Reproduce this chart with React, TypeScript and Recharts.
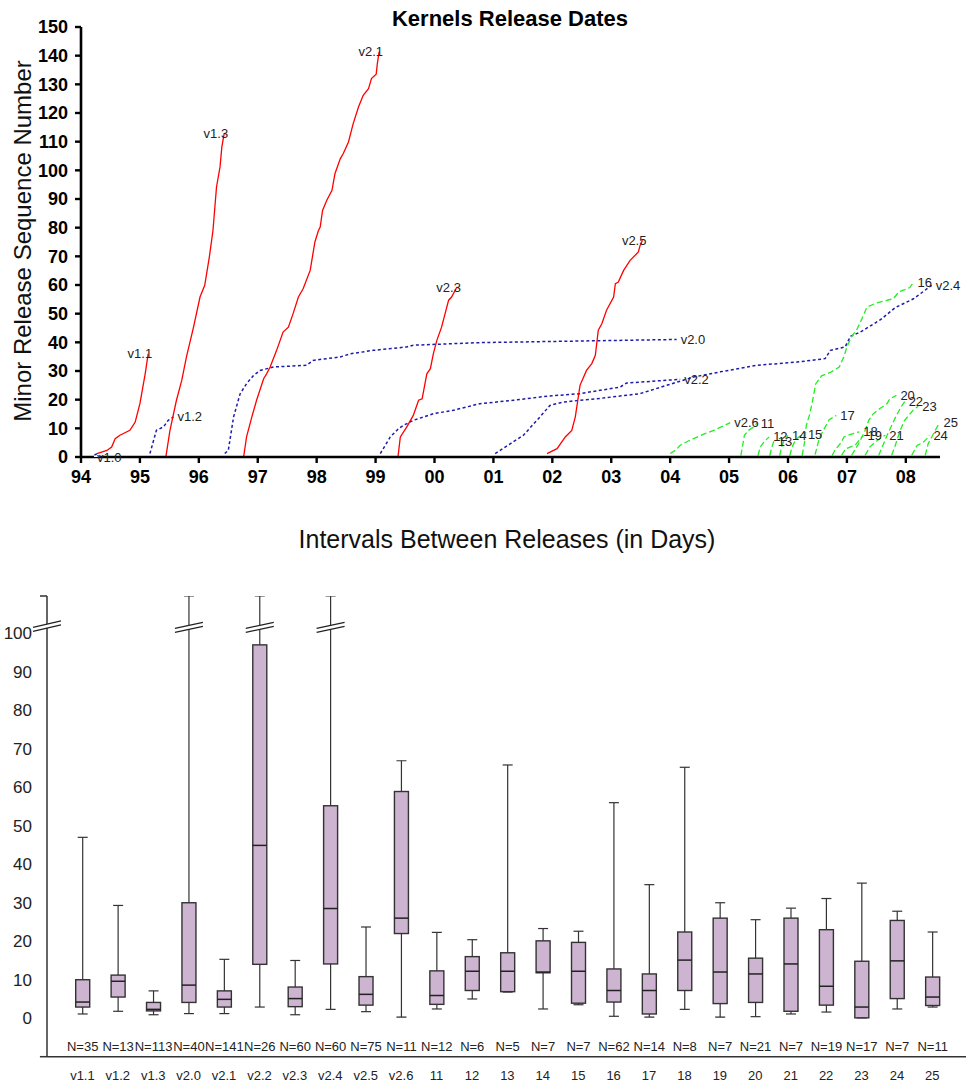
import React from 'react';
import { LineChart, Line, XAxis, YAxis, ComposedChart, Bar, ReferenceDot, ReferenceLine } from 'recharts';

const FONT = '"Liberation Sans", Arial, Helvetica, sans-serif';

// ---------- Top chart data: [year (since 1900), minor release number] ----------
const v10: number[][] = [[94.27, 0]];
const v11: number[][] = [[94.27, 1.2], [94.44, 2.3], [94.52, 3.5], [94.58, 6.4], [94.66, 7.6], [94.83, 9.3], [94.92, 12.2], [95.0, 18.6], [95.09, 29.1], [95.14, 36]];
const v12: number[][] = [[95.17, 1.2], [95.28, 9.3], [95.4, 10.5], [95.48, 12.8], [95.57, 14]];
const v13: number[][] = [[95.44, 0], [95.51, 9.3], [95.62, 19.8], [95.71, 26.7], [95.79, 34.9], [95.91, 45.3], [96.02, 55.8], [96.1, 59.9], [96.18, 70], [96.24, 79], [96.3, 94.2], [96.36, 101.2], [96.39, 108.1], [96.43, 112.8]];
const v20: number[][] = [[96.44, 1.2], [96.5, 2.3], [96.59, 14], [96.7, 22], [96.81, 25.6], [96.93, 28.5], [97.04, 30.2], [97.27, 31.4], [97.83, 32], [97.94, 33.7], [98.4, 34.9], [98.57, 36], [98.96, 37.2], [99.53, 38.4], [99.64, 39], [100.77, 39.9], [104.11, 41]];
const v21: number[][] = [[96.76, 0], [96.81, 7], [96.9, 14], [96.98, 19.8], [97.1, 27.3], [97.15, 29], [97.21, 31.4], [97.32, 37.2], [97.43, 43.6], [97.52, 45.3], [97.6, 50], [97.69, 55.8], [97.77, 58.7], [97.89, 65.1], [97.97, 75], [98.03, 79], [98.06, 80.2], [98.1, 86], [98.17, 89.5], [98.26, 93], [98.31, 98.8], [98.4, 104], [98.45, 105.8], [98.54, 109.9], [98.62, 116.3], [98.71, 122.1], [98.79, 126.2], [98.88, 128.5], [98.93, 132], [99.01, 133.5], [99.03, 137.2], [99.06, 141.3]];
const v22: number[][] = [[99.08, 1.2], [99.25, 7], [99.39, 9.9], [99.47, 11], [99.64, 12.8], [99.98, 15.1], [100.32, 16.3], [100.77, 18.6], [101.34, 19.8], [101.91, 21.2], [102.47, 22.1], [103.15, 24.4], [103.26, 25.8], [104.17, 27.1]];
const v23: number[][] = [[99.38, 0], [99.42, 7], [99.53, 10.5], [99.64, 14.5], [99.73, 19.8], [99.79, 20.3], [99.87, 29], [99.93, 30.8], [99.98, 36], [100.04, 40.7], [100.12, 45.3], [100.24, 54.7], [100.29, 55.8], [100.38, 59.3]];
const v24: number[][] = [[101.03, 1.2], [101.51, 7.6], [101.79, 14], [101.96, 18], [102.19, 19.2], [102.75, 20.3], [103.49, 22.1], [103.94, 25], [104.4, 27.9], [104.85, 29.7], [105.47, 32], [106.15, 33.1], [106.63, 34.3], [106.72, 37.2], [106.97, 38.4], [107.06, 42.1], [107.23, 43.6], [107.57, 47.9], [107.82, 52.1], [108.13, 55.2], [108.44, 59.9]];
const v25: number[][] = [[101.91, 1.2], [102.08, 2.9], [102.22, 7], [102.33, 9.3], [102.39, 14], [102.47, 25], [102.58, 30.2], [102.67, 32.6], [102.73, 35.5], [102.78, 44.2], [102.84, 46.5], [102.92, 51.2], [103.04, 55.8], [103.07, 60.5], [103.12, 61], [103.21, 65.1], [103.32, 68.6], [103.46, 71.5], [103.49, 73.8], [103.53, 75.6]];
const v26: number[][] = [[104.0, 1.2], [104.1, 2.5], [104.17, 4.1], [104.3, 5.5], [104.4, 6.4], [104.55, 7.8], [104.74, 9.3], [104.9, 10.8], [105.02, 12]];
const k11: number[][] = [[105.2, 0.5], [105.23, 4], [105.26, 7.6], [105.33, 9.3], [105.42, 10.5], [105.47, 11.8]];
const k12: number[][] = [[105.49, 0.5], [105.53, 3.5], [105.6, 5.5], [105.68, 7]];
const k13: number[][] = [[105.69, 0.5], [105.72, 3], [105.76, 5.5]];
const k14: number[][] = [[105.86, 0.5], [105.89, 3.5], [105.94, 6], [106.0, 7.5]];
const k15: number[][] = [[106.03, 0.5], [106.07, 3.5], [106.13, 6], [106.2, 7.2], [106.27, 7.8]];
const k16: number[][] = [[106.24, 0.5], [106.28, 5], [106.31, 11], [106.37, 15], [106.43, 21], [106.47, 25.5], [106.57, 28.3], [106.72, 29.5], [106.87, 31.4], [106.95, 35], [107.0, 38.4], [107.08, 42], [107.17, 44.5], [107.25, 48], [107.34, 52.3], [107.51, 53.8], [107.79, 55.2], [107.88, 57.6], [108.07, 59.1], [108.13, 61]];
const k17: number[][] = [[106.46, 0.8], [106.5, 4], [106.53, 6.5], [106.6, 9.3], [106.66, 11.5], [106.7, 13], [106.82, 14.5]];
const k18: number[][] = [[106.75, 0.5], [106.8, 2.5], [106.9, 5], [106.95, 7], [107.05, 7.8], [107.21, 8.8]];
const k19: number[][] = [[106.91, 0.6], [106.98, 2.9], [107.14, 4.1], [107.23, 6.4], [107.28, 7.4]];
const k20: number[][] = [[107.08, 0.6], [107.2, 4.7], [107.31, 9.3], [107.37, 12.8], [107.45, 15.1], [107.56, 16.9], [107.68, 18.6], [107.73, 20.3], [107.84, 21.5]];
const k21: number[][] = [[107.31, 0.6], [107.39, 3.5], [107.5, 5.5], [107.6, 7], [107.65, 7.6]];
const k22: number[][] = [[107.54, 0.6], [107.6, 3.5], [107.68, 7.5], [107.76, 11], [107.84, 14.5], [107.92, 17.5], [107.98, 19.3]];
const k23: number[][] = [[107.76, 0.6], [107.82, 4], [107.9, 9], [107.97, 12.5], [108.05, 14.5], [108.13, 16.5], [108.21, 17.7]];
const k24: number[][] = [[108.1, 0.6], [108.19, 4], [108.3, 5.2], [108.36, 6.5], [108.4, 7.6]];
const k25: number[][] = [[108.33, 0.6], [108.38, 4.7], [108.44, 7], [108.5, 9.3], [108.57, 11.9]];

const yearTicks = [94, 95, 96, 97, 98, 99, 100, 101, 102, 103, 104, 105, 106, 107, 108];
const seqTicks = [0, 10, 20, 30, 40, 50, 60, 70, 80, 90, 100, 110, 120, 130, 140, 150];

// series styling (kept apart from the values)
type Kind = 'odd' | 'even' | 'new';
const seriesList: { name: string; pts: number[][]; kind: Kind }[] = [
  { name: 'v1.0', pts: v10, kind: 'even' },
  { name: 'v1.1', pts: v11, kind: 'odd' },
  { name: 'v1.2', pts: v12, kind: 'even' },
  { name: 'v1.3', pts: v13, kind: 'odd' },
  { name: 'v2.0', pts: v20, kind: 'even' },
  { name: 'v2.1', pts: v21, kind: 'odd' },
  { name: 'v2.2', pts: v22, kind: 'even' },
  { name: 'v2.3', pts: v23, kind: 'odd' },
  { name: 'v2.4', pts: v24, kind: 'even' },
  { name: 'v2.5', pts: v25, kind: 'odd' },
  { name: 'v2.6', pts: v26, kind: 'new' },
  { name: '11', pts: k11, kind: 'new' },
  { name: '12', pts: k12, kind: 'new' },
  { name: '13', pts: k13, kind: 'new' },
  { name: '14', pts: k14, kind: 'new' },
  { name: '15', pts: k15, kind: 'new' },
  { name: '16', pts: k16, kind: 'new' },
  { name: '17', pts: k17, kind: 'new' },
  { name: '18', pts: k18, kind: 'new' },
  { name: '19', pts: k19, kind: 'new' },
  { name: '20', pts: k20, kind: 'new' },
  { name: '21', pts: k21, kind: 'new' },
  { name: '22', pts: k22, kind: 'new' },
  { name: '23', pts: k23, kind: 'new' },
  { name: '24', pts: k24, kind: 'new' },
  { name: '25', pts: k25, kind: 'new' },
];

const STYLE: Record<Kind, { stroke: string; width: number; dash?: string }> = {
  odd: { stroke: '#ff0000', width: 1.3 },
  even: { stroke: '#1c1ca8', width: 1.5, dash: '3 2.5' },
  new: { stroke: '#22ee22', width: 1.3, dash: '6 3' },
};

// ---------- Bottom chart data: release intervals in days ----------
const categories = ['v1.1', 'v1.2', 'v1.3', 'v2.0', 'v2.1', 'v2.2', 'v2.3', 'v2.4', 'v2.5', 'v2.6', '11', '12', '13', '14', '15', '16', '17', '18', '19', '20', '21', '22', '23', '24', '25'];
const counts = [35, 13, 113, 40, 141, 26, 60, 60, 75, 11, 12, 6, 5, 7, 7, 62, 14, 8, 7, 21, 7, 19, 17, 7, 11];
const mins = [1.1, 1.8, 0.9, 1.2, 1.2, 2.9, 0.9, 2.3, 1.7, 0.3, 2.4, 5.0, 6.8, 2.4, 3.5, 0.5, 0.3, 2.3, 0.3, 0.4, 1.1, 1.6, 0.1, 2.4, 2.9];
const q1s = [2.9, 5.5, 1.9, 4.1, 2.9, 14, 3.0, 14.1, 3.4, 22, 3.6, 7.2, 6.9, 11.8, 3.9, 4.2, 1.1, 7.2, 3.8, 4.1, 1.8, 3.4, 0.1, 5.1, 3.3];
const medians = [4.2, 9.6, 2.3, 8.6, 4.9, 44.9, 5.1, 28.5, 6.2, 26, 5.9, 12.2, 12.2, 12.0, 12.2, 7.2, 7.2, 15.1, 12, 11.5, 14.1, 8.3, 2.9, 14.9, 5.5];
const q3s = [10, 11.2, 4.1, 30, 7.1, 97, 8.1, 55.2, 10.8, 58.9, 12.3, 16, 17, 20.1, 19.7, 12.8, 11.5, 22.4, 26, 15.6, 26, 23, 14.8, 25.4, 10.7];
const maxs = [47, 29.3, 7.1, 356.04, 15.3, 221.91, 15, 168.72, 23.7, 66.9, 22.3, 20.4, 65.8, 23.3, 22.6, 56, 34.7, 65.2, 30, 25.6, 28.6, 31.1, 35.1, 27.8, 22.4];
const intervalTicks = [0, 10, 20, 30, 40, 50, 60, 70, 80, 90, 100];

const AXIS_TOP = 109.7; // values above the break are drawn at the top of the axis
const BREAK_AT = 102.2;
const AXIS_BOTTOM = -10;
const N_LABEL_AT = -7.45;

const boxData = categories.map((c, i) => ({
  name: c,
  pos: i + 1,
  n: counts[i],
  min: mins[i],
  q1: q1s[i],
  med: medians[i],
  q3: q3s[i],
  max: maxs[i],
  top: Math.min(maxs[i], AXIS_TOP),
}));

const BoxShape = (props: any) => {
  const { x, width, payload } = props;
  let y = props.y;
  let h = props.height;
  if (h < 0) { y = y + h; h = -h; }
  const lo = payload.min;
  const hi = payload.top;
  const pix = (v: number) => y + (h * (hi - v)) / (hi - lo);
  const cx = x + width / 2;
  const bw = 14;
  const cap = 5;
  const broken = payload.max > 100;
  const by = pix(BREAK_AT);
  return (
    <g>
      <line x1={cx} x2={cx} y1={pix(payload.top)} y2={pix(payload.min)} stroke="#333" strokeWidth={1.2} />
      <line x1={cx - cap} x2={cx + cap} y1={pix(payload.top)} y2={pix(payload.top)} stroke="#333" strokeWidth={1.2} />
      <line x1={cx - cap} x2={cx + cap} y1={pix(payload.min)} y2={pix(payload.min)} stroke="#333" strokeWidth={1.2} />
      <rect x={cx - bw / 2} y={pix(payload.q3)} width={bw} height={Math.max(pix(payload.q1) - pix(payload.q3), 0.5)} fill="#cdb4d0" stroke="#333" strokeWidth={1.4} />
      <line x1={cx - bw / 2} x2={cx + bw / 2} y1={pix(payload.med)} y2={pix(payload.med)} stroke="#222" strokeWidth={1.5} />
      {broken && (
        <g>
          <polygon points={`${cx - 14},${by + 3.5} ${cx + 14},${by - 2.5} ${cx + 14},${by + 1.5} ${cx - 14},${by + 7.5}`} fill="#fff" />
          <line x1={cx - 14} y1={by + 3.5} x2={cx + 14} y2={by - 2.5} stroke="#222" strokeWidth={1.2} />
          <line x1={cx - 14} y1={by + 7.5} x2={cx + 14} y2={by + 1.5} stroke="#222" strokeWidth={1.2} />
          <text x={cx} y={pix(payload.top) - 13} dy="0.35em" textAnchor="middle" fontSize={13} fill="#222" fontFamily={FONT}>{payload.max.toFixed(2)}</text>
        </g>
      )}
      <text x={cx} y={pix(N_LABEL_AT)} dy="0.35em" textAnchor="middle" fontSize={13} fill="#222" fontFamily={FONT}>{`N=${payload.n}`}</text>
    </g>
  );
};

const AxisBreak = (props: any) => {
  const { cx, cy } = props;
  if (cx == null || cy == null) return <g />;
  return (
    <g>
      <polygon points={`${cx - 14},${cy + 2.5} ${cx + 14},${cy - 4} ${cx + 14},${cy} ${cx - 14},${cy + 6.5}`} fill="#fff" />
      <line x1={cx - 14} y1={cy + 2.5} x2={cx + 14} y2={cy - 4} stroke="#222" strokeWidth={1.2} />
      <line x1={cx - 14} y1={cy + 6.5} x2={cx + 14} y2={cy} stroke="#222" strokeWidth={1.2} />
    </g>
  );
};

const BoxYTick = (props: any) => {
  const { x, y, payload } = props;
  if (payload.value > 100) {
    return <line x1={x + 8} x2={x + 15} y1={y} y2={y} stroke="#222" strokeWidth={1.4} />;
  }
  return (
    <text x={x} y={y} dy="0.35em" textAnchor="end" fontSize={17} fill="#222" fontFamily={FONT}>{payload.value}</text>
  );
};

const makeEndLabel = (count: number, text: string, kind: Kind) => (p: any) => {
  if (p.index !== count - 1) return <g />;
  const anchor = kind === 'odd' ? 'end' : 'start';
  const dx = text === 'v1.0' ? 0 : 4;
  return (
    <text x={p.x + dx} y={p.y} dy="0.35em" textAnchor={anchor} fontSize={13} fill="#222" fontFamily={FONT}>{text}</text>
  );
};

const yearFmt = (v: number) => String(v % 100).padStart(2, '0');

export default function App() {
  return (
    <div style={{ position: 'absolute', left: 0, top: 0, width: 966, height: 1084, background: '#fff' }}>
      <div style={{ position: 'absolute', left: 0, top: 0 }}>
        <LineChart width={966} height={500} margin={{ top: 27, right: 26, left: 0, bottom: 13 }}>
          <XAxis
            dataKey="x"
            type="number"
            domain={[94, 108.58]}
            ticks={yearTicks}
            tickFormatter={yearFmt}
            allowDataOverflow
            height={30}
            stroke="#000"
            axisLine={{ stroke: '#000', strokeWidth: 2.6 }}
            tickLine={{ stroke: '#000', strokeWidth: 2.4 }}
            tickSize={6}
            tickMargin={7}
            tick={{ fontSize: 18, fontWeight: 'bold', fill: '#000', fontFamily: FONT }}
            interval={0}
          />
          <YAxis
            dataKey="y"
            type="number"
            domain={[0, 150]}
            ticks={seqTicks}
            allowDataOverflow
            width={81}
            axisLine={{ stroke: '#000', strokeWidth: 2.6 }}
            tickLine={{ stroke: '#000', strokeWidth: 2.4 }}
            tickSize={6}
            tickMargin={7}
            tick={{ fontSize: 18, fontWeight: 'bold', fill: '#000', fontFamily: FONT }}
            interval={0}
          />
          {seriesList.map((s) => {
            const st = STYLE[s.kind];
            const data = s.pts.map(([x, y]) => ({ x, y }));
            return (
              <Line
                key={s.name}
                name={s.name}
                data={data}
                dataKey="y"
                type="linear"
                stroke={st.stroke}
                strokeWidth={st.width}
                strokeDasharray={st.dash}
                dot={false}
                activeDot={false}
                isAnimationActive={false}
                label={makeEndLabel(data.length, s.name, s.kind)}
              />
            );
          })}
        </LineChart>
      </div>
      <div style={{ position: 'absolute', left: 0, top: 500 }}>
        <ComposedChart width={966} height={584} data={boxData} margin={{ top: 96, right: 0, left: 0, bottom: 0 }}>
          <XAxis
            dataKey="pos"
            type="number"
            domain={[0, 25.95]}
            ticks={boxData.map((d) => d.pos)}
            tickFormatter={(v: number) => categories[v - 1] ?? ''}
            allowDataOverflow
            height={27.3}
            axisLine={{ stroke: '#333', strokeWidth: 1.5 }}
            tickLine={false}
            tickSize={0}
            tickMargin={14}
            tick={{ fontSize: 13, fill: '#222', fontFamily: FONT }}
            interval={0}
          />
          <YAxis
            type="number"
            domain={[AXIS_BOTTOM, AXIS_TOP]}
            ticks={[...intervalTicks, AXIS_TOP]}
            allowDataOverflow
            width={47}
            axisLine={{ stroke: '#333', strokeWidth: 1.5 }}
            tickLine={false}
            tickSize={0}
            tickMargin={15}
            tick={<BoxYTick />}
            interval={0}
          />
          <Bar dataKey={(d: any) => [d.min, d.top]} barSize={14} shape={<BoxShape />} isAnimationActive={false} />
          <ReferenceLine segment={[{ x: -0.2, y: AXIS_BOTTOM }, { x: 0, y: AXIS_BOTTOM }]} stroke="#333" strokeWidth={1.5} ifOverflow="visible" />
          <ReferenceDot x={0} y={BREAK_AT} r={0} shape={<AxisBreak />} ifOverflow="visible" />
        </ComposedChart>
      </div>
      <svg width={966} height={1084} style={{ position: 'absolute', left: 0, top: 0, pointerEvents: 'none' }}>
        <text x={510} y={26} textAnchor="middle" fontSize={22} fontWeight="bold" fill="#000" fontFamily={FONT}>Kernels Release Dates</text>
        <text x={31} y={241} textAnchor="middle" fontSize={24} fill="#111" fontFamily={FONT} transform="rotate(-90 31 241)">Minor Release Sequence Number</text>
        <text x={507} y={548} textAnchor="middle" fontSize={25} fill="#111" fontFamily={FONT}>Intervals Between Releases (in Days)</text>
      </svg>
    </div>
  );
}
